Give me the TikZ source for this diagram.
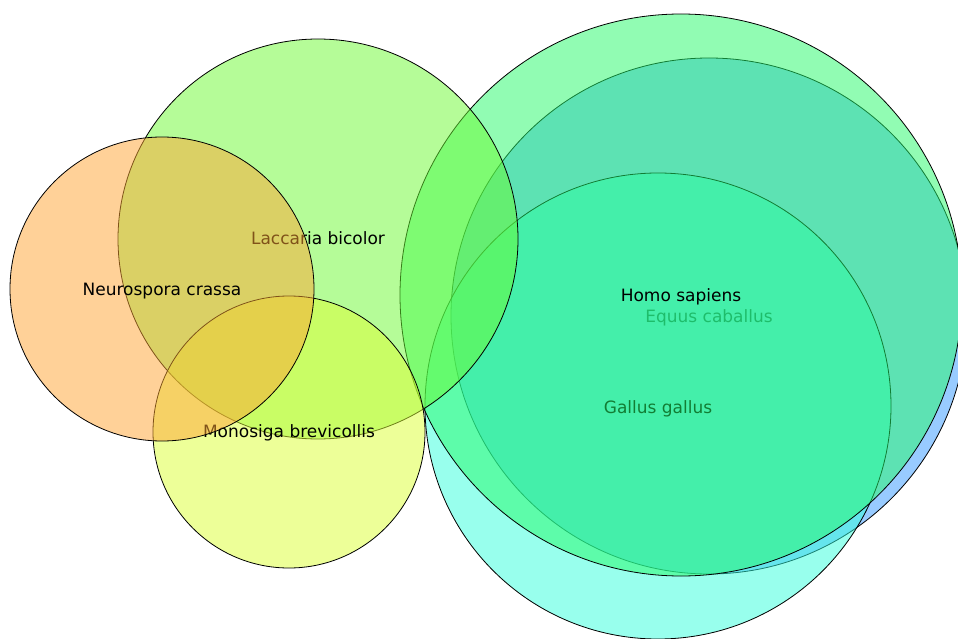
\documentclass[tikz,border=0pt]{standalone}
\usepackage{fontspec}
\setmainfont{DejaVu Sans}
\definecolor{equusC}{RGB}{51,153,255}
\definecolor{gallusC}{RGB}{51,255,221}
\definecolor{homoC}{RGB}{36,250,104}
\definecolor{laccC}{RGB}{108,251,51}
\definecolor{monoC}{RGB}{221,255,51}
\definecolor{neuroC}{RGB}{255,165,51}
\begin{document}
\begin{tikzpicture}[x=1pt,y=-1pt,
  venn/.style={circle, draw=black, line width=0.8pt, fill opacity=0.5, inner sep=0pt, outer sep=0pt, minimum size=#1},
  lbl/.style={font=\fontsize{17}{19}\selectfont, text=black, inner sep=0pt}]
\useasboundingbox (0,0) rectangle (958,639);
\clip (0,0) rectangle (958,639);
\fill[white] (0,0) rectangle (958,639);
% right cluster
\node[venn=516pt, fill=equusC] (eq) at (709,316) {};
\node[lbl] (eqL) at ([yshift=-2pt]eq.center) {Equus caballus};
\node[venn=466pt, fill=gallusC] (ga) at (658,406) {};
\node[lbl] (gaL) at ([yshift=-3pt]ga.center) {Gallus gallus};
\node[venn=562pt, fill=homoC] (ho) at (681,295) {};
\node[lbl] (hoL) at ([yshift=-2pt]ho.center) {Homo sapiens};
% left cluster
\node[venn=400pt, fill=laccC] (la) at (318,239) {};
\node[lbl] (laL) at ([yshift=0.5pt]la.center) {Laccaria bicolor};
\node[venn=272pt, fill=monoC] (mo) at (289,432) {};
\node[lbl] (moL) at ([yshift=-0.5pt]mo.center) {Monosiga brevicollis};
\node[venn=304pt, fill=neuroC] (ne) at (162,289) {};
\node[lbl] (neL) at ([yshift=-2pt]ne.center) {Neurospora crassa};
\end{tikzpicture}
\end{document}
